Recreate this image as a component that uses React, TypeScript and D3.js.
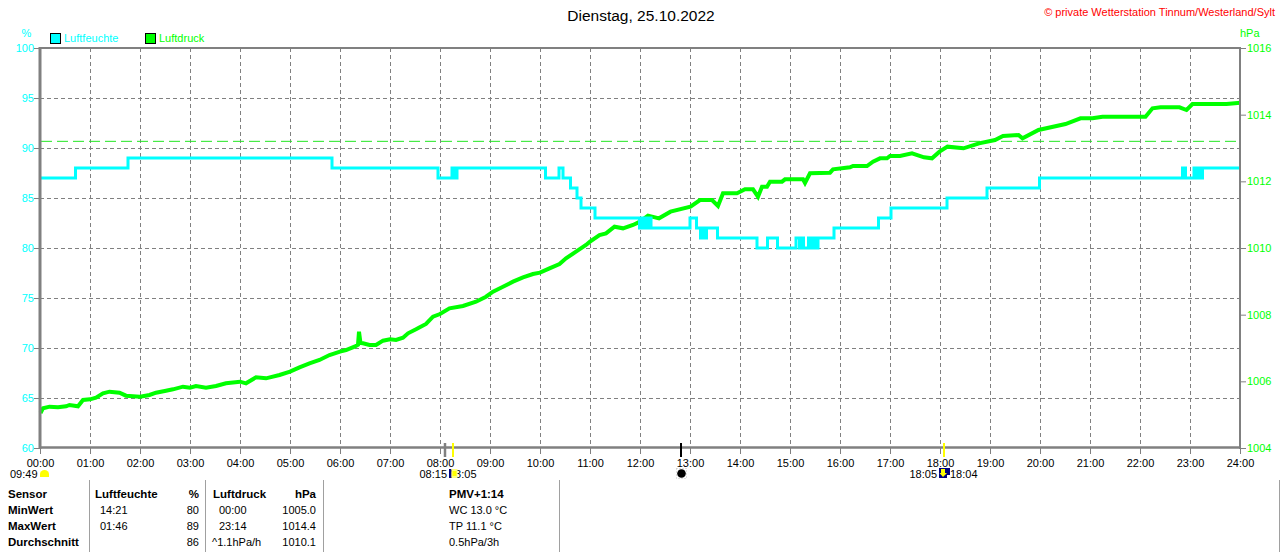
import React from "react";
import * as d3 from "d3";

// ---- data ----
const hourTicks: number[] = d3.range(0, 25);
const hourLabels: string[] = hourTicks.map((h) => `${String(h).padStart(2, "0")}:00`);
const humidityTicks: number[] = [60, 65, 70, 75, 80, 85, 90, 95, 100];
const pressureTicks: number[] = [1004, 1006, 1008, 1010, 1012, 1014, 1016];
const standardPressure = 1013.2;

const humidityTimes: number[] = [
  0, 0.7, 1.75, 5.83, 7.95, 8.23, 8.27, 8.29, 8.31, 8.33, 10.1, 10.37, 10.45, 10.6, 10.73, 10.81, 11.09,
  11.98, 12.02, 12.06, 12.09, 12.13, 12.17, 12.21, 12.99, 13.12, 13.2, 13.25, 13.27, 13.32, 13.54,
  14.33, 14.54, 14.74, 15.11, 15.18, 15.22, 15.26, 15.36, 15.41, 15.45, 15.51, 15.55, 15.87, 16.76,
  17.01, 18.13, 18.93, 19.98, 22.84, 22.9, 23.07, 23.11, 23.16, 23.2, 23.24, 24.0,
];
const humidityValues: number[] = [
  87, 88, 89, 88, 87, 88, 87, 88, 87, 88, 87, 88, 87, 86, 85, 84, 83,
  82, 83, 82, 83, 82, 83, 82, 83, 82, 81, 82, 81, 82, 81,
  80, 81, 80, 81, 80, 81, 80, 81, 80, 81, 80, 81, 82, 83,
  84, 85, 86, 87, 88, 87, 88, 87, 88, 87, 88, 88,
];

const pressureTimes: number[] = [
  0, 0.05, 0.18, 0.35, 0.51, 0.58, 0.75, 0.85, 0.99, 1.11, 1.25, 1.38, 1.58, 1.71, 1.99, 2.18, 2.31,
  2.51, 2.65, 2.85, 2.99, 3.11, 3.31, 3.51, 3.71, 3.99, 4.11, 4.31, 4.51, 4.78, 4.99, 5.18, 5.38,
  5.58, 5.78, 5.99, 6.11, 6.28, 6.35, 6.37, 6.4, 6.45, 6.58, 6.71, 6.85, 6.99, 7.11, 7.25, 7.35,
  7.51, 7.71, 7.85, 7.99, 8.18, 8.45, 8.71, 8.91, 9.05, 9.25, 9.45, 9.65, 9.85, 9.99, 10.18, 10.38,
  10.51, 10.71, 10.91, 10.99, 11.18, 11.31, 11.48, 11.65, 11.85, 11.99, 12.15, 12.37, 12.6, 13.0,
  13.19, 13.43, 13.55, 13.65, 13.93, 14.09, 14.25, 14.35, 14.43, 14.53, 14.59, 14.83, 14.89, 15.25,
  15.29, 15.39, 15.79, 15.85, 16.19, 16.25, 16.53, 16.65, 16.79, 16.93, 16.99, 17.19,
  17.43, 17.67, 17.83, 17.98, 18.14, 18.46, 18.77, 19.09, 19.25, 19.56, 19.64, 19.96, 20.5,
  20.8, 21.04, 21.24, 22.1, 22.24, 22.4, 22.78, 22.92, 23.04, 23.72, 24.0,
];
const pressureValues: number[] = [
  1005.05, 1005.19, 1005.24, 1005.22, 1005.25, 1005.29, 1005.25, 1005.44, 1005.46, 1005.51, 1005.64,
  1005.69, 1005.66, 1005.57, 1005.54, 1005.59, 1005.66, 1005.72, 1005.76, 1005.84, 1005.81, 1005.86,
  1005.81, 1005.86, 1005.94, 1005.99, 1005.94, 1006.12, 1006.09, 1006.19, 1006.29, 1006.42, 1006.54,
  1006.64, 1006.79, 1006.89, 1006.94, 1007.04, 1007.1, 1007.49, 1007.15, 1007.14, 1007.09, 1007.09,
  1007.22, 1007.26, 1007.24, 1007.31, 1007.44, 1007.56, 1007.72, 1007.94, 1008.02, 1008.19, 1008.26,
  1008.39, 1008.54, 1008.69, 1008.84, 1008.99, 1009.12, 1009.22, 1009.26, 1009.39, 1009.52, 1009.69,
  1009.89, 1010.09, 1010.19, 1010.39, 1010.44, 1010.64, 1010.59, 1010.69, 1010.79, 1010.97, 1010.89,
  1011.09, 1011.24,
  1011.44, 1011.44, 1011.26, 1011.64, 1011.64, 1011.76, 1011.76, 1011.54, 1011.84, 1011.84, 1011.99,
  1011.99, 1012.06, 1012.06, 1011.95, 1012.24, 1012.26, 1012.36, 1012.42, 1012.46, 1012.46, 1012.59,
  1012.69, 1012.69, 1012.76, 1012.76,
  1012.84, 1012.72, 1012.69, 1012.89, 1013.04, 1012.99, 1013.14, 1013.24, 1013.36, 1013.39, 1013.29,
  1013.54, 1013.72, 1013.89, 1013.89, 1013.94, 1013.94, 1014.19, 1014.22, 1014.22, 1014.14, 1014.32,
  1014.32, 1014.36,
];

const tableHeader: string[] = ["Sensor", "Luftfeuchte", "%", "Luftdruck", "hPa"];
const tableRowNames: string[] = ["MinWert", "MaxWert", "Durchschnitt"];
const humTimesCol: string[] = ["14:21", "01:46", ""];
const humValCol: string[] = ["80", "89", "86"];
const presTimesCol: string[] = ["00:00", "23:14", "^1.1hPa/h"];
const presValCol: string[] = ["1005.0", "1014.4", "1010.1"];
const extraHeader = "PMV+1:14";
const extraLines: string[] = ["WC 13.0 °C", "TP 11.1 °C", "0.5hPa/3h"];

const FONT = "'Liberation Sans', Arial, sans-serif";
const GRAY = "#808080";
const CYAN = "#00ffff";
const GREEN = "#00ff00";

export default function App() {
  const x = d3.scaleLinear().domain([0, 24]).range([40.5, 1240.5]);
  const yH = d3.scaleLinear().domain([60, 100]).range([448, 48]);
  const yP = d3.scaleLinear().domain([1004, 1016]).range([448, 48]);

  const humLine = d3
    .line<number>()
    .x((_, i) => x(humidityTimes[i]))
    .y((v) => yH(v))
    .curve(d3.curveStepAfter)(humidityValues) as string;
  const presLine = d3
    .line<number>()
    .x((_, i) => x(pressureTimes[i]))
    .y((v) => yP(v))(pressureValues) as string;

  const rowY = (i: number) => 497.5 + 16 * i;

  return (
    <svg
      width={1280}
      height={552}
      style={{ position: "absolute", left: 0, top: 0, background: "#fff" }}
      fontFamily={FONT}
    >
      <rect x={0} y={0} width={1280} height={552} fill="#fff" />
      {/* title */}
      <text x={641} y={21} fontSize={15.5} textAnchor="middle" fill="#000">
        Dienstag, 25.10.2022
      </text>
      <text x={1275} y={16} fontSize={11} textAnchor="end" fill="#ff0000">
        © private Wetterstation Tinnum/Westerland/Sylt
      </text>
      {/* units */}
      <text x={26.5} y={37} fontSize={11} textAnchor="middle" fill={CYAN}>%</text>
      <text x={1240} y={37} fontSize={11} fill={GREEN}>hPa</text>
      {/* legend */}
      <rect x={50.5} y={33.5} width={10} height={10} fill={CYAN} stroke="#000" />
      <text x={64} y={42} fontSize={11} fill={CYAN}>Luftfeuchte</text>
      <rect x={145.5} y={33.5} width={10} height={10} fill={GREEN} stroke="#000" />
      <text x={159} y={42} fontSize={11} fill={GREEN}>Luftdruck</text>

      {/* grid */}
      {humidityTicks.slice(1, -1).map((v) => (
        <line key={"gh" + v} x1={40} x2={1240} y1={yH(v) + 0.5} y2={yH(v) + 0.5} stroke={GRAY} strokeDasharray="4,3" />
      ))}
      {hourTicks.slice(1, -1).map((h) => (
        <line key={"gv" + h} x1={x(h)} x2={x(h)} y1={48} y2={448} stroke={GRAY} strokeDasharray="4,3" />
      ))}
      <line x1={41} x2={1240} y1={yP(standardPressure)} y2={yP(standardPressure)} stroke="#22e622" strokeDasharray="11,5" />

      {/* series */}
      <path d={presLine} fill="none" stroke={GREEN} strokeWidth={4} strokeLinejoin="miter" />
      <path d={humLine} fill="none" stroke={CYAN} strokeWidth={3} />

      {/* frame */}
      <line x1={40} x2={1241} y1={48} y2={48} stroke={GRAY} strokeWidth={2} />
      <line x1={40} x2={1241} y1={447.5} y2={447.5} stroke={GRAY} strokeWidth={2.5} />
      <line x1={40} x2={40} y1={47} y2={449} stroke={GRAY} strokeWidth={3} />
      <line x1={1240} x2={1240} y1={47} y2={449} stroke={GRAY} strokeWidth={2} />

      {/* left axis */}
      {humidityTicks.map((v) => (
        <g key={"lh" + v}>
          <line x1={34} x2={39} y1={yH(v) + 0.5} y2={yH(v) + 0.5} stroke={GRAY} />
          <text x={34} y={yH(v) + 4} fontSize={11} textAnchor="end" fill={CYAN}>{v}</text>
        </g>
      ))}
      {/* right axis */}
      {pressureTicks.map((v) => (
        <g key={"rp" + v}>
          <line x1={1241} x2={1246} y1={yP(v) + 0.5} y2={yP(v) + 0.5} stroke={GRAY} />
          <text x={1247} y={yP(v) + 4} fontSize={11} fill={GREEN}>{v}</text>
        </g>
      ))}
      {/* x axis */}
      {hourTicks.map((h, i) => (
        <g key={"xt" + h}>
          <line x1={x(h)} x2={x(h)} y1={448} y2={454} stroke={GRAY} />
          <text x={x(h)} y={467} fontSize={11} textAnchor="middle" fill="#000">{hourLabels[i]}</text>
        </g>
      ))}

      {/* sun / moon markers */}
      <text x={10} y={478} fontSize={11} fill="#000">09:49</text>
      <path d="M40,477 L40,474 A4.5,4 0 0 1 49,474 L49,477 Z" fill="#ffff00" />
      <line x1={445} x2={445} y1={443} y2={457} stroke={GRAY} strokeWidth={2.5} />
      <line x1={453} x2={453} y1={443} y2={457} stroke="#ffff00" strokeWidth={2} />
      <text x={447} y={478} fontSize={11} textAnchor="end" fill="#000">08:15</text>
      <text x={449} y={478} fontSize={11} fill="#000">13:05</text>
      <rect x={449} y={469} width={2.5} height={9} fill="#000080" />
      <rect x={451.5} y={469} width={6} height={9} fill="#ffff80" />
      <rect x={452.5} y={471} width={4} height={5} fill="#ffff00" />
      <line x1={681} x2={681} y1={443} y2={457} stroke="#000" strokeWidth={2} />
      <rect x={676.5} y={468.5} width={10} height={10} fill="none" stroke="#c0c0c0" strokeDasharray="1,2" />
      <circle cx={681.5} cy={473.5} r={4.3} fill="#000" />
      <line x1={944} x2={944} y1={443} y2={457} stroke="#ffff00" strokeWidth={2} />
      <text x={937} y={478} fontSize={11} textAnchor="end" fill="#000">18:05</text>
      <text x={950} y={478} fontSize={11} fill="#000">18:04</text>
      <rect x={939} y={468} width={11} height={10} fill="#000080" />
      <path d="M941,469 L945,469 L945,473 L947,473 L943,477 L939.5,473 L941,473 Z" fill="#ffff00" />
      <rect x={947} y={475} width={3} height={3} fill="#ffffff" />

      {/* table separators */}
      {[89.5, 205.5, 323.5, 559.5, 1279.5].map((sx) => (
        <line key={"sep" + sx} x1={sx} x2={sx} y1={480} y2={552} stroke="#a0a0a0" />
      ))}
      {/* table */}
      <g fontSize={11.5} fontWeight="bold" fill="#000">
        <text x={8} y={rowY(0)}>{tableHeader[0]}</text>
        <text x={95} y={rowY(0)}>{tableHeader[1]}</text>
        <text x={199} y={rowY(0)} textAnchor="end">{tableHeader[2]}</text>
        <text x={213} y={rowY(0)}>{tableHeader[3]}</text>
        <text x={316} y={rowY(0)} textAnchor="end">{tableHeader[4]}</text>
        {tableRowNames.map((n, i) => (
          <text key={n} x={8} y={rowY(i + 1)}>{n}</text>
        ))}
        <text x={449} y={rowY(0)}>{extraHeader}</text>
      </g>
      <g fontSize={11} fill="#000">
        {tableRowNames.map((n, i) => (
          <g key={"r" + n}>
            <text x={100} y={rowY(i + 1)}>{humTimesCol[i]}</text>
            <text x={199} y={rowY(i + 1)} textAnchor="end">{humValCol[i]}</text>
            <text x={i === 2 ? 212 : 219} y={rowY(i + 1)}>{presTimesCol[i]}</text>
            <text x={316} y={rowY(i + 1)} textAnchor="end">{presValCol[i]}</text>
            <text x={449} y={rowY(i + 1)}>{extraLines[i]}</text>
          </g>
        ))}
      </g>
    </svg>
  );
}
